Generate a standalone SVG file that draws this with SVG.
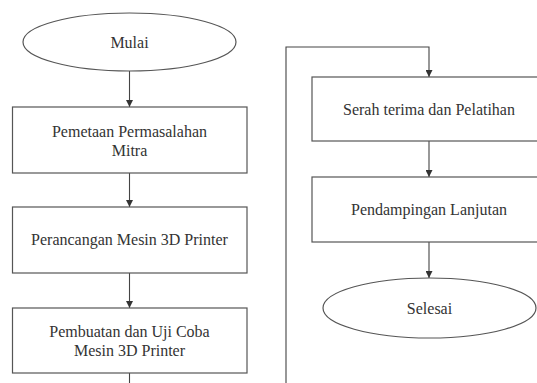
<svg xmlns="http://www.w3.org/2000/svg" width="537" height="383" viewBox="0 0 537 383">
<style>
.box{fill:#fff;stroke:#555;stroke-width:1.2}
.t{font-family:"Liberation Serif","Times New Roman",serif;font-size:16px;fill:#333;text-anchor:middle}
.c{fill:none;stroke:#444;stroke-width:1.1}
</style>
<defs>
<marker id="ah" viewBox="0 0 10 10" refX="10" refY="5" markerWidth="7" markerHeight="7" markerUnits="userSpaceOnUse" orient="auto">
<path d="M0,0 L10,5 L0,10 z" fill="#333"/>
</marker>
</defs>
<rect width="537" height="383" fill="#fff"/>
<g id="connectors">
<path class="c" d="M129.5,71 V107" marker-end="url(#ah)"/>
<path class="c" d="M129.5,173 V207" marker-end="url(#ah)"/>
<path class="c" d="M129.5,273 V308" marker-end="url(#ah)"/>
<path class="c" d="M129.5,373 V383"/>
<path class="c" d="M286,383 V47 H429 V77" marker-end="url(#ah)"/>
<path class="c" d="M429,141 V177" marker-end="url(#ah)"/>
<path class="c" d="M429,242 V278" marker-end="url(#ah)"/>
</g>
<g id="mulai">
<ellipse class="box" cx="129.5" cy="42" rx="106.5" ry="29"/>
<text class="t" x="129.5" y="47.5">Mulai</text>
</g>
<g id="pemetaan">
<rect class="box" x="12.5" y="107" width="234.5" height="66"/>
<text class="t" x="129.5" y="137">Pemetaan Permasalahan</text>
<text class="t" x="129.5" y="155.5">Mitra</text>
</g>
<g id="perancangan">
<rect class="box" x="12.5" y="207" width="234.5" height="66"/>
<text class="t" x="129.5" y="245">Perancangan Mesin 3D Printer</text>
</g>
<g id="pembuatan">
<rect class="box" x="12.5" y="308" width="234.5" height="65"/>
<text class="t" x="129.5" y="337">Pembuatan dan Uji Coba</text>
<text class="t" x="129.5" y="356">Mesin 3D Printer</text>
</g>
<g id="serah">
<rect class="box" x="312" y="77" width="235" height="64"/>
<text class="t" x="429" y="115">Serah terima dan Pelatihan</text>
</g>
<g id="pendampingan">
<rect class="box" x="312" y="177" width="235" height="65"/>
<text class="t" x="429" y="215">Pendampingan Lanjutan</text>
</g>
<g id="selesai">
<ellipse class="box" cx="429.5" cy="308" rx="106.5" ry="30"/>
<text class="t" x="429.5" y="313.5">Selesai</text>
</g>
</svg>
